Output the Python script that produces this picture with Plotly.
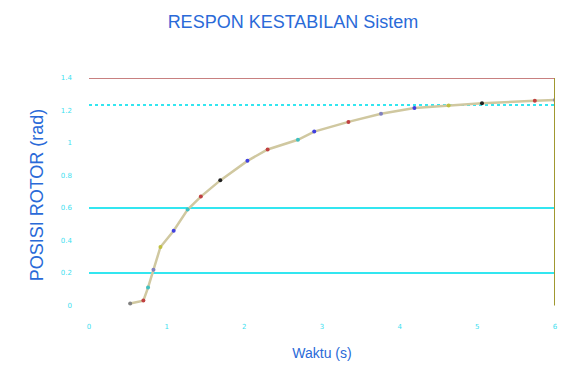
import plotly.graph_objects as go

# Data
time_s = [0.53, 0.70, 0.76, 0.83, 0.92, 1.09, 1.27, 1.44, 1.69, 2.04, 2.30, 2.69, 2.90, 3.34, 3.76, 4.19, 4.63, 5.06, 5.74, 6.0]
posisi = [0.012, 0.03, 0.11, 0.22, 0.36, 0.46, 0.59, 0.67, 0.77, 0.89, 0.96, 1.02, 1.07, 1.13, 1.18, 1.215, 1.23, 1.245, 1.26, 1.265]
marker_colors = ["#808080", "#c04040", "#40c0c0", "#8080c0", "#c0c040", "#4040e0", "#40c0c0", "#c04040",
                 "#202020", "#4040e0", "#c04040", "#40c0c0", "#4040e0", "#c04040", "#8080c0", "#4040e0",
                 "#c0c040", "#202020", "#c04040", "#8080c0"]
setpoint = 1.234
grid_values = [0.2, 0.6]
x_ticks = [0, 1, 2, 3, 4, 5, 6]
y_ticks = [0, 0.2, 0.4, 0.6, 0.8, 1.0, 1.2, 1.4]

fig = go.Figure()

for g in grid_values:
    fig.add_trace(go.Scatter(x=[0, 6], y=[g, g], mode="lines",
                             line=dict(color="#33e6f0", width=2), showlegend=False, hoverinfo="skip"))

fig.add_trace(go.Scatter(x=[0, 6], y=[setpoint, setpoint], mode="lines",
                         line=dict(color="#33e6f0", width=2, dash="dot"), showlegend=False))

fig.add_trace(go.Scatter(x=time_s, y=posisi, mode="lines+markers",
                         line=dict(color="#d0c8a0", width=2.5),
                         marker=dict(size=4, color=marker_colors),
                         showlegend=False))

# top border (red) and right border (olive)
fig.add_trace(go.Scatter(x=[0, 6], y=[1.4, 1.4], mode="lines", cliponaxis=False,
                         line=dict(color="#c88080", width=2), showlegend=False))
fig.add_trace(go.Scatter(x=[6, 6], y=[0, 1.4], mode="lines", cliponaxis=False,
                         line=dict(color="#a09830", width=2), showlegend=False))

W, H = 561, 382  # page body has an 8px margin
fig.update_layout(
    width=W, height=H,
    margin=dict(l=81, r=14, t=70, b=78, autoexpand=False),
    paper_bgcolor="white", plot_bgcolor="white",
    title=dict(text="RESPON KESTABILAN Sistem", x=285 / W, xanchor="center", y=1 - 14 / H, yanchor="middle",
               font=dict(family="Liberation Sans", size=18, color="#2a6ad8")),
    xaxis=dict(range=[0, 6], tickvals=x_ticks, showgrid=False, zeroline=False, showline=False,
               automargin=False,
               tickfont=dict(size=7, color="#40e0f0", family="DejaVu Sans"),
               ticks="", ticklabelstandoff=9,
               title=dict(text="Waktu (s)", font=dict(size=14, color="#2a6ad8", family="Liberation Sans"), standoff=18)),
    yaxis=dict(range=[-0.04, 1.4], tickvals=y_ticks, showgrid=False, zeroline=False, showline=False,
               automargin=False,
               tickfont=dict(size=7, color="#40e0f0", family="DejaVu Sans"),
               ticks="", ticklabelstandoff=16,
               title=dict(text="POSISI ROTOR (rad)", font=dict(size=18, color="#2a6ad8", family="Liberation Sans"), standoff=12)),
)

fig.write_html("out.html")
